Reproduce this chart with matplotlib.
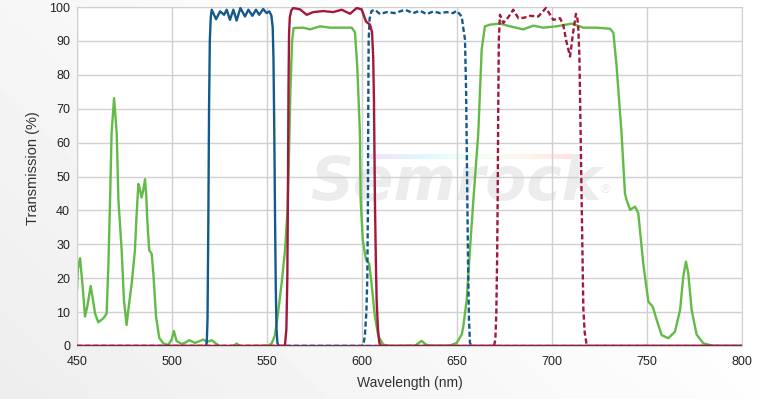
import numpy as np
import matplotlib.pyplot as plt

# filter spectra (wavelength nm, transmission %)
blue_wl = [450, 517.8, 518.3, 518.7, 519.1, 519.5, 519.9, 520.4, 520.9, 523.2, 525.3, 527.4, 528.8, 530.5,
           532.3, 534, 536, 538.4, 540.2, 542.3, 544.2, 545.9, 548, 549.8, 551.2, 552.3, 553.0, 553.4,
           553.8, 554.2, 554.6, 555.0, 555.5, 556.2, 800]
blue_t = [0, 0, 1, 8, 35, 70, 90, 97, 99.2, 96.4, 98.7, 97.7, 99.2, 96.2,
          99.2, 96, 99.7, 97.2, 99.2, 97.4, 99.2, 97.7, 99.4, 98.2, 98.7, 97.5, 94, 85,
          65, 40, 18, 5, 0.8, 0, 0]

blue_d_wl = [450, 599.8, 600.7, 601.5, 602.3, 602.8, 603.1, 603.3, 603.5, 604, 605, 606.8, 609.5, 613,
             617.4, 622.6, 627, 630.5, 634, 637.5, 641, 644.6, 648, 649.8, 652.5, 653.3, 654.2,
             654.8, 655.3, 655.8, 656.3, 656.8, 657.5, 800]
blue_d_t = [0, 0, 0.3, 3, 10, 20, 40, 70, 90, 96.5, 98.8, 99.2, 97.9, 98.5,
            98.2, 99.2, 98.2, 98.9, 97.9, 98.7, 98.2, 98.5, 98.2, 98.9, 97.2, 93.8, 90.5,
            75, 50, 25, 8, 1, 0, 0]

red_wl = [450, 559, 559.5, 560.2, 560.7, 561, 561.3, 561.6, 562, 562.8, 563.8, 567.4, 570.9, 574.4,
          579.6, 584.9, 589.3, 593.7, 597.2, 599.8, 602.1, 604.2, 605.3, 605.9, 606.3, 606.8,
          607.3, 607.7, 608.4, 609.1, 610, 800]
red_t = [0, 0, 0.5, 5, 20, 43, 75, 92, 97, 99, 99.7, 99.3, 97.7, 98.5,
         98.8, 98.5, 99.2, 98, 99.7, 99.3, 95.7, 94.8, 92.5, 85, 72, 43,
         25, 13.6, 5, 1, 0, 0]

red_d_wl = [450, 669.5, 670.2, 670.7, 671.1, 671.4, 671.7, 672, 672.6, 674.4, 677, 679.6, 682.3, 685,
            688.4, 692.8, 696.8, 700.7, 704.2, 705.9, 707.5, 709.5, 711, 712.6, 713.3, 713.8, 714.4,
            715, 715.6, 716.1, 716.5, 717.2, 718.2, 719, 800]
red_d_t = [0, 0, 2, 10, 25, 43, 70, 90, 97.7, 95.3, 97, 99.2, 96.7, 96.8,
           97.4, 97.2, 99.7, 96.2, 96.7, 94.8, 90, 85.4, 92, 98, 97, 94, 86,
           65, 43, 25, 11, 4, 0.5, 0, 0]

green_wl = [450, 450.4, 451.6, 453, 454.2, 455.4, 457.2, 458.3, 459.5, 461.2, 463.9, 465.6, 466.5, 467.4,
            468.2, 469.5, 470.9, 471.8, 473.5, 474.7, 476.1, 477, 478.8, 480.5, 481.3, 482.3, 483.2,
            484, 484.9, 485.8, 486.5, 487, 488, 489.3, 490.2, 491.6, 493.3, 495.4, 498, 499.8, 501,
            502.4, 505.1, 507, 509.1, 512.1, 516.5, 518.3, 520.9, 523.5, 525.3, 532.3, 534, 535.8,
            550.7, 552.5, 554.2, 556, 557.7, 559.5, 560.8, 561.5, 562.3, 563.2, 564, 569.1, 572.6,
            577.9, 583.2, 588.4, 594.6, 596.3, 597.5, 598.9, 599.3, 600.4, 602.1, 603.8, 605, 606.8,
            608.6, 611.2, 615, 628, 629.6, 631.4, 633.7, 636, 646, 649.8, 652.5, 653.3, 655.1, 656.8,
            658.6, 661.2, 663, 664.7, 667.4, 672.6, 677.9, 684.9, 690.2, 695.4, 702.5, 710.4, 716.5,
            723.5, 730.5, 732.3, 734, 736.6, 738.4, 739.3, 741.1, 743.7, 745.4, 748, 750.7, 753,
            755.1, 757.7, 761.2, 764.7, 767.4, 769.1, 770.5, 771.7, 773.5, 776.1, 779.6, 785, 800]
green_t = [16.5, 22.6, 25.9, 17.4, 8.7, 11.6, 17.7, 14, 9.6, 7, 8.2, 9.6, 23.6, 43,
           62.8, 73.1, 62.8, 43, 28.3, 13.6, 6.2, 10.6, 18.5, 28.3, 38, 47.8, 46,
           43.8, 46, 49.2, 44, 37, 28.3, 27.2, 21.3, 8.7, 2.4, 0.8, 0.3, 1.9, 4.4,
           1.5, 0.6, 1.0, 1.7, 0.9, 1.9, 1.2, 1.7, 0.6, 0, 0, 0.7, 0,
           0.1, 0.8, 3.2, 10.6, 18.5, 28.3, 40, 55, 75, 90, 93.8, 93.9, 93.4,
           94.3, 93.9, 93.9, 93.9, 92.5, 82.5, 62.8, 43, 31.3, 25.4, 24.3, 18.5, 8.7,
           2.9, 0.4, 0, 0.1, 0.8, 1.5, 0.4, 0.1, 0.1, 0.9, 3.4, 5.7, 13.6, 28.3,
           43, 62.8, 87.6, 94.3, 94.8, 95.1, 94.3, 93.4, 94.5, 93.9, 94.3, 95.1, 93.9,
           93.9, 93.6, 92.4, 82.5, 62.8, 45, 43, 40.2, 41.1, 39.2, 24.5, 13.1, 11.6,
           7.7, 3.2, 2.3, 4.2, 10.6, 20.5, 24.9, 21.5, 10.6, 3.4, 0.8, 0, 0]

x_ticks = [450, 500, 550, 600, 650, 700, 750, 800]
y_ticks = [0, 10, 20, 30, 40, 50, 60, 70, 80, 90, 100]

BLUE = '#12598c'
RED = '#a3173b'
GREEN = '#62bb46'

plt.rcParams['font.family'] = ['Liberation Sans', 'DejaVu Sans']

fig = plt.figure(figsize=(7.58, 3.99), dpi=100)

# soft grey background, darker towards the lower left
bg = fig.add_axes([0, 0, 1, 1], zorder=-10)
gx, gy = np.meshgrid(np.linspace(0, 1, 200), np.linspace(1, 0, 100))
g = 0.93 + 0.07 * np.clip(0.9 * gx + 0.5 * gy, 0, 1)
bg.imshow(g, cmap='gray', vmin=0, vmax=1, aspect='auto', extent=[0, 1, 0, 1])
bg.axis('off')

ax = fig.add_axes([77 / 758, 1 - 346 / 399, 665 / 758, 339 / 399])
ax.set_facecolor('white')

# faint watermark logo
ax.text(0.57, 0.43, 'Semrock', transform=ax.transAxes, ha='center', va='baseline',
        fontsize=43, style='italic', weight='bold', color='#ececec', zorder=0.5,
        family='DejaVu Sans')
ax.text(0.795, 0.45, '®', transform=ax.transAxes, ha='center', va='baseline',
        fontsize=9, color='#e6e6e6', zorder=0.5)
ax.imshow(np.linspace(0, 1, 100)[None, :], cmap='rainbow', alpha=0.12, aspect='auto',
          extent=[604, 710, 55.2, 56.4], zorder=0.4)

lw = 1.7
ax.plot(green_wl, green_t, color=GREEN, lw=lw, zorder=2)
ax.plot(blue_wl, blue_t, color=BLUE, lw=lw, zorder=3)
ax.plot(blue_d_wl, blue_d_t, color=BLUE, lw=lw, ls=(0, (2.2, 1.2)), zorder=3)
ax.plot(red_d_wl, red_d_t, color=RED, lw=lw, ls=(0, (2.2, 1.2)), zorder=4)
ax.plot(red_wl, red_t, color=RED, lw=lw, zorder=5)

ax.set_xlim(450, 800)
ax.set_ylim(0, 100)
ax.set_xticks(x_ticks)
ax.set_yticks(y_ticks)
ax.grid(True, color='#d0d0d0', lw=1)
ax.set_axisbelow(True)
for s in ax.spines.values():
    s.set_color('#d0d0d0')
ax.tick_params(length=0, labelsize=9, colors='#222222', pad=7)
ax.tick_params(axis='y', pad=5)

ax.set_xlabel('Wavelength (nm)', fontsize=10, color='#333333', labelpad=6)
ax.set_ylabel('Transmission (%)', fontsize=10.5, color='#333333')
ax.yaxis.set_label_coords(-0.056, 0.524)

fig.savefig('out.png', dpi=100)
